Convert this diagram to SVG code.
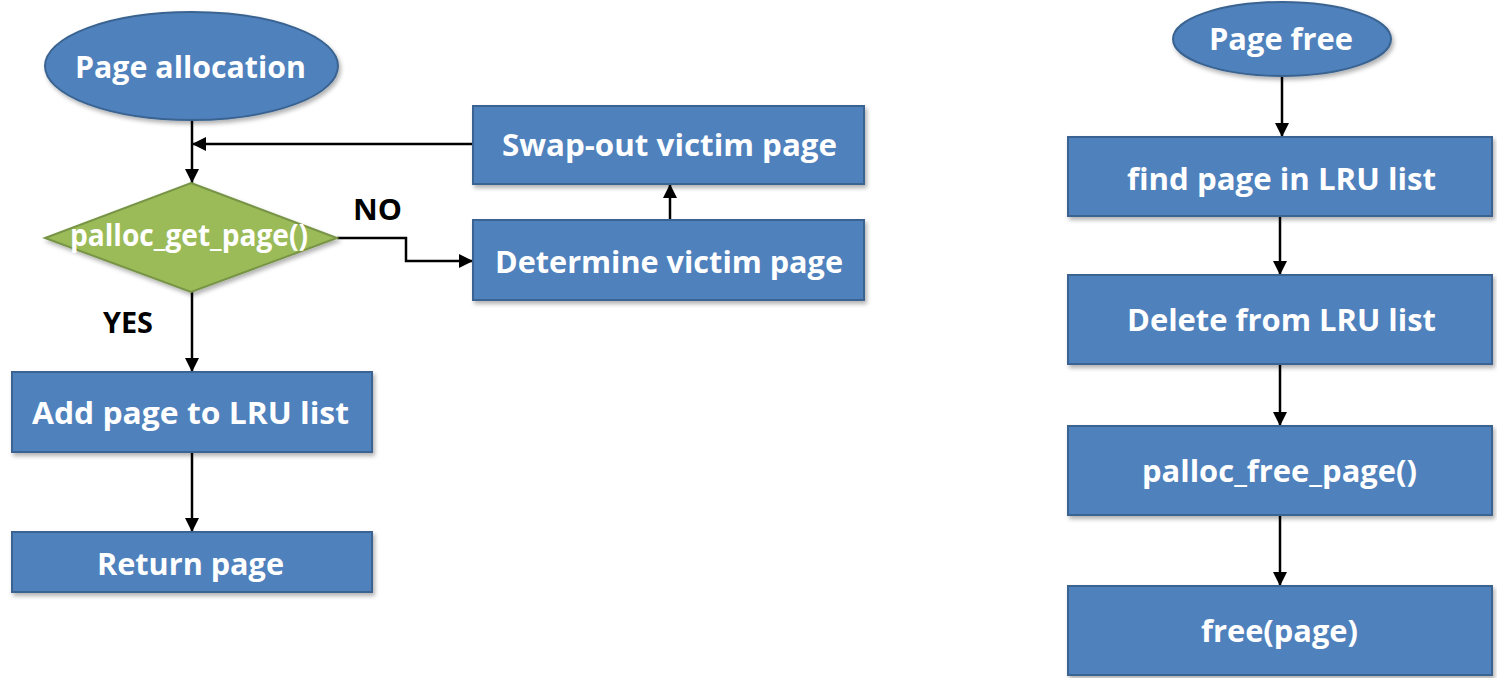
<svg xmlns="http://www.w3.org/2000/svg" width="1497" height="678" viewBox="0 0 1497 678">
  <style>
    .box { fill: #4F81BD; stroke: #3A6491; stroke-width: 2; filter: url(#shadow); }
    .dec { fill: #9BBB59; stroke: #779446; stroke-width: 2; filter: url(#shadow); }
    .lbl { fill: #ffffff; font-family: "Open Sans", "Noto Sans", "Liberation Sans", sans-serif; font-weight: bold; font-size: 30px; }
    .note { fill: #000000; font-family: "Open Sans", "Noto Sans", "Liberation Sans", sans-serif; font-weight: bold; font-size: 28px; }
    .wire { fill: none; stroke: #000000; stroke-width: 2.5; marker-end: url(#head); }
  </style>
  <defs>
    <filter id="shadow" x="-10%" y="-10%" width="125%" height="130%">
      <feDropShadow dx="2" dy="3" stdDeviation="2" flood-color="#000000" flood-opacity="0.3"/>
    </filter>
    <marker id="head" markerUnits="userSpaceOnUse" markerWidth="16" markerHeight="16" refX="14" refY="7" orient="auto">
      <path d="M0,0 L14,7 L0,14 Z" fill="#000000"/>
    </marker>
  </defs>

  <!-- connectors -->
  <g id="connectors">
    <path class="wire" d="M192,120 V183"/>
    <path class="wire" d="M473,144 H192"/>
    <path class="wire" d="M337,238 H406 V261 H473"/>
    <path class="wire" d="M670,220 V184"/>
    <path class="wire" d="M192,292 V372"/>
    <path class="wire" d="M192,452 V532"/>
    <path class="wire" d="M1282,76 V137"/>
    <path class="wire" d="M1280,216 V275"/>
    <path class="wire" d="M1280,364 V426"/>
    <path class="wire" d="M1280,515 V586"/>
  </g>

  <!-- allocation flow -->
  <g id="page-allocation">
    <ellipse class="box" cx="191.5" cy="66" rx="146.5" ry="54"/>
    <text class="lbl" x="75" y="78" textLength="231" lengthAdjust="spacingAndGlyphs">Page allocation</text>
  </g>
  <g id="palloc-get-page">
    <polygon class="dec" points="191,183 337,238 191,292 45,238"/>
    <text class="lbl" x="70" y="246" textLength="238" lengthAdjust="spacingAndGlyphs">palloc_get_page()</text>
  </g>
  <g id="label-no">
    <text class="note" x="353" y="220" textLength="49" lengthAdjust="spacingAndGlyphs">NO</text>
  </g>
  <g id="label-yes">
    <text class="note" x="103" y="333" textLength="50" lengthAdjust="spacingAndGlyphs">YES</text>
  </g>
  <g id="swap-out">
    <rect class="box" x="473" y="106" width="391" height="78"/>
    <text class="lbl" x="502" y="156" textLength="335" lengthAdjust="spacingAndGlyphs">Swap-out victim page</text>
  </g>
  <g id="determine-victim">
    <rect class="box" x="473" y="220" width="391" height="80"/>
    <text class="lbl" x="495" y="273" textLength="348" lengthAdjust="spacingAndGlyphs">Determine victim page</text>
  </g>
  <g id="add-to-lru">
    <rect class="box" x="12" y="372" width="360" height="80"/>
    <text class="lbl" x="32" y="424" textLength="317" lengthAdjust="spacingAndGlyphs">Add page to LRU list</text>
  </g>
  <g id="return-page">
    <rect class="box" x="12" y="532" width="360" height="60"/>
    <text class="lbl" x="97" y="575" textLength="187" lengthAdjust="spacingAndGlyphs">Return page</text>
  </g>

  <!-- free flow -->
  <g id="page-free">
    <ellipse class="box" cx="1282" cy="39" rx="109" ry="37"/>
    <text class="lbl" x="1209" y="50" textLength="144" lengthAdjust="spacingAndGlyphs">Page free</text>
  </g>
  <g id="find-in-lru">
    <rect class="box" x="1068" y="137" width="424" height="79"/>
    <text class="lbl" x="1127" y="190" textLength="309" lengthAdjust="spacingAndGlyphs">find page in LRU list</text>
  </g>
  <g id="delete-from-lru">
    <rect class="box" x="1068" y="275" width="424" height="89"/>
    <text class="lbl" x="1127" y="331" textLength="309" lengthAdjust="spacingAndGlyphs">Delete from LRU list</text>
  </g>
  <g id="palloc-free-page">
    <rect class="box" x="1068" y="426" width="424" height="89"/>
    <text class="lbl" x="1142" y="482" textLength="275" lengthAdjust="spacingAndGlyphs">palloc_free_page()</text>
  </g>
  <g id="free-page">
    <rect class="box" x="1068" y="586" width="424" height="89"/>
    <text class="lbl" x="1201" y="642" textLength="157" lengthAdjust="spacingAndGlyphs">free(page)</text>
  </g>
</svg>
